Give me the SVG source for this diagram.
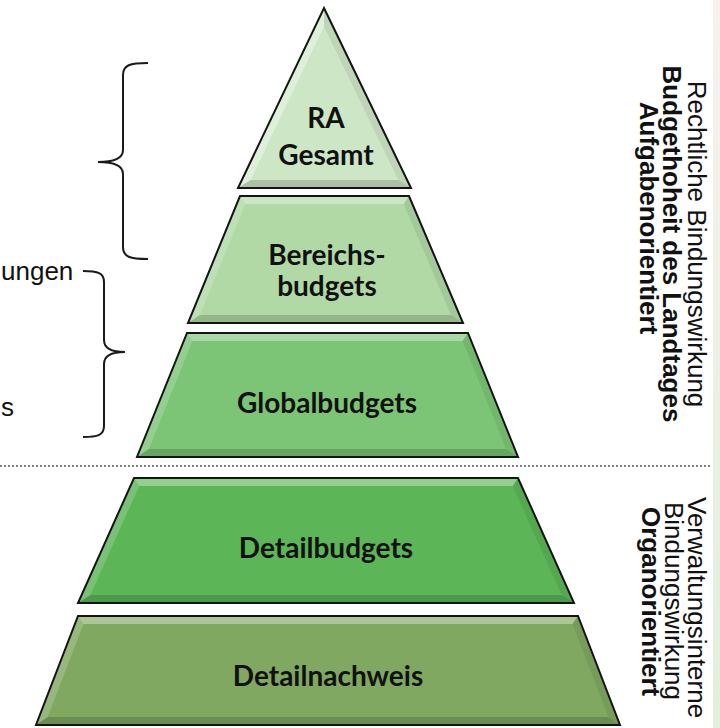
<svg xmlns="http://www.w3.org/2000/svg" width="720" height="728" viewBox="0 0 720 728">
<defs>
<linearGradient id="strip" x1="0" y1="0" x2="0" y2="1">
<stop offset="0" stop-color="#f8f1ef"/>
<stop offset="1" stop-color="#e2efda"/>
</linearGradient>
<style>
.outline{stroke:#141414;stroke-width:2;stroke-linejoin:miter}
.hi{fill:#ffffff;fill-opacity:0.35}
.hi2{fill:#ffffff;fill-opacity:0.18}
.sh{fill:#000000;fill-opacity:0.16}
.sh2{fill:#000000;fill-opacity:0.07}
.lbl{font-family:Lato,"Open Sans",sans-serif;font-weight:bold;font-size:28px;fill:#111;text-anchor:middle}
.side{font-family:"Liberation Sans",Arial,sans-serif;font-size:26px;fill:#111}
.sideb{font-family:"Liberation Sans",Arial,sans-serif;font-size:26px;font-weight:bold;fill:#111}
.brace{fill:none;stroke:#1a1a1a;stroke-width:2}
</style>
</defs>
<rect x="0" y="0" width="720" height="728" fill="#ffffff"/>
<rect x="713" y="0" width="7" height="728" fill="url(#strip)"/>

<g id="connectors">
<path class="brace" d="M148,63 C130,63 123,65 123,75 L123,150 C123,158 115,162 98,162 C115,162 123,166 123,174 L123,247 C123,257 130,259 148,259"/>
<path class="brace" d="M83,271 C98,271 104,273 104,282 L104,340 C104,348 110,352 125,352 C110,352 104,356 104,364 L104,426 C104,435 98,437 83,437"/>
<line x1="0" y1="466" x2="712" y2="466" stroke="#555" stroke-width="1.5" stroke-dasharray="2 2"/>
</g>

<g id="left-labels">
<text class="side" x="1" y="280">ungen</text>
<text class="side" x="1" y="416">s</text>
</g>

<g id="node-ra-gesamt">
<polygon points="324,8 411,188 238,188" fill="#cde6c6"/>
<polygon class="hi" points="324,8 324,26.5 250.7,180 238,188"/>
<polygon class="sh2" points="324,8 411,188 398.2,180 324,26.5"/>
<polygon class="sh" points="238,188 411,188 398.2,180 250.7,180"/>
<polygon class="outline" fill="none" points="324,8 411,188 238,188"/>
<text class="lbl" x="326" y="128">RA</text>
<text class="lbl" x="326" y="165">Gesamt</text>
</g>

<g id="node-bereichsbudgets">
<polygon points="240,196 409,196 463,323 188,323" fill="#b0d9a6"/>
<polygon class="hi" points="240,196 409,196 403.7,204 245.3,204"/>
<polygon class="hi2" points="240,196 245.3,204 199.9,315 188,323"/>
<polygon class="sh2" points="409,196 463,323 450.9,315 403.7,204"/>
<polygon class="sh" points="188,323 463,323 450.9,315 199.9,315"/>
<polygon class="outline" fill="none" points="240,196 409,196 463,323 188,323"/>
<text class="lbl" x="327" y="265">Bereichs-</text>
<text class="lbl" x="327" y="296">budgets</text>
</g>

<g id="node-globalbudgets">
<polygon points="187,333 468,333 518,457 137,457" fill="#7cc576"/>
<polygon class="hi" points="187,333 468,333 462.6,341 192.4,341"/>
<polygon class="hi2" points="187,333 192.4,341 148.9,449 137,457"/>
<polygon class="sh2" points="468,333 518,457 506.1,449 462.6,341"/>
<polygon class="sh" points="137,457 518,457 506.1,449 148.9,449"/>
<polygon class="outline" fill="none" points="187,333 468,333 518,457 137,457"/>
<text class="lbl" x="327" y="413">Globalbudgets</text>
</g>

<g id="node-detailbudgets">
<polygon points="134,478 518,478 574,603 78,603" fill="#5cb557"/>
<polygon class="hi" points="134,478 518,478 512.8,486 139.2,486"/>
<polygon class="hi2" points="134,478 139.2,486 90.4,595 78,603"/>
<polygon class="sh2" points="518,478 574,603 561.6,595 512.8,486"/>
<polygon class="sh" points="78,603 574,603 561.6,595 90.4,595"/>
<polygon class="outline" fill="none" points="134,478 518,478 574,603 78,603"/>
<text class="lbl" x="326" y="558">Detailbudgets</text>
</g>

<g id="node-detailnachweis">
<polygon points="78,616 578,616 620,725 36,725" fill="#80a860"/>
<polygon class="hi" points="78,616 578,616 572.5,624 83.5,624"/>
<polygon class="hi2" points="78,616 83.5,624 47.7,717 36,725"/>
<polygon class="sh2" points="578,616 620,725 608.3,717 572.5,624"/>
<polygon class="sh" points="36,725 620,725 608.3,717 47.7,717"/>
<polygon class="outline" fill="none" points="78,616 578,616 620,725 36,725"/>
<text class="lbl" x="328" y="686">Detailnachweis</text>
</g>

<g id="side-labels-top">
<text class="side" transform="translate(688,244) rotate(90)" text-anchor="middle">Rechtliche Bindungswirkung</text>
<text class="sideb" transform="translate(663,244) rotate(90)" text-anchor="middle">Budgethoheit des Landtages</text>
<text class="sideb" transform="translate(640,218) rotate(90)" text-anchor="middle">Aufgabenorientiert</text>
</g>

<g id="side-labels-bottom">
<text class="side" transform="translate(688,497) rotate(90)">Verwaltungsinterne</text>
<text class="side" transform="translate(665,502) rotate(90)">Bindungswirkung</text>
<text class="sideb" transform="translate(642,507) rotate(90)">Organorientiert</text>
</g>
</svg>
